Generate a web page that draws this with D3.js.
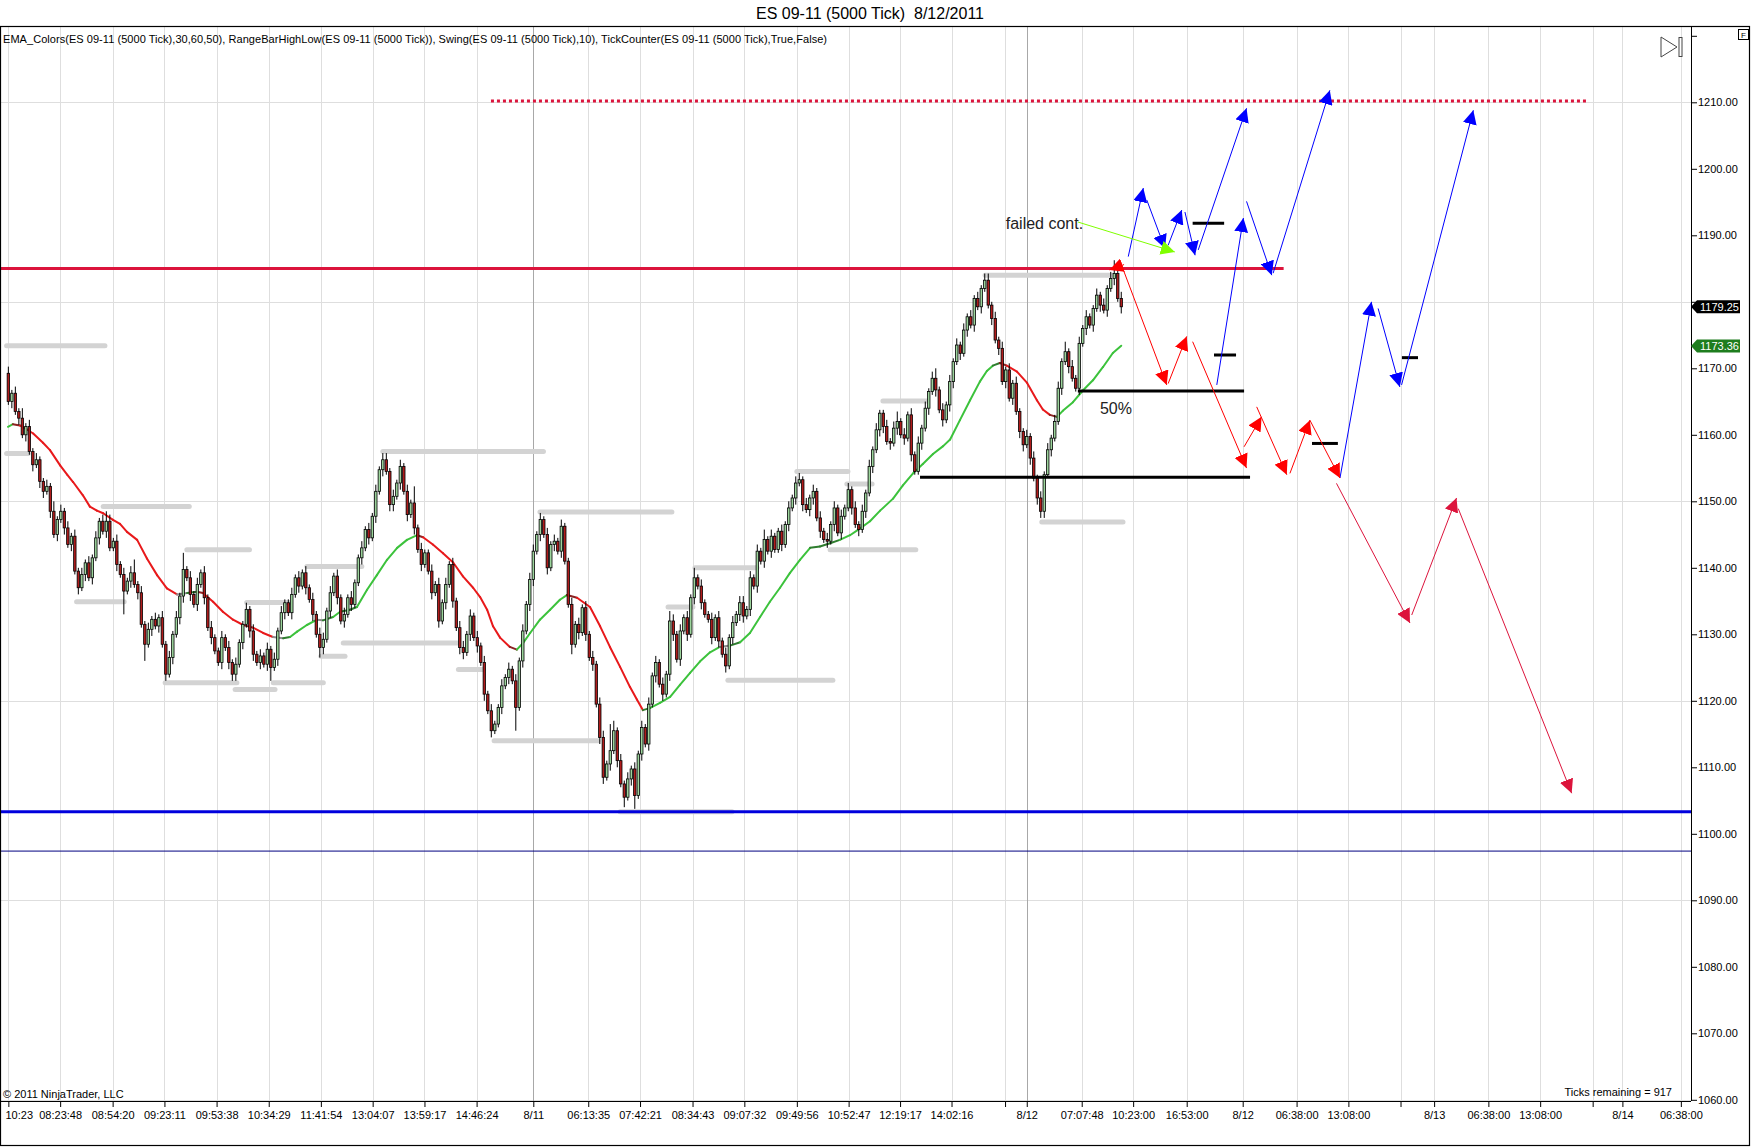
<!DOCTYPE html>
<html>
<head>
<meta charset="utf-8">
<script src="https://cdn.jsdelivr.net/npm/d3@7"></script>
<style>
  body { margin: 0; background: #fff; }
  svg { display: block; font-family: "Liberation Sans", Arial, sans-serif; }
</style>
</head>
<body>
<div id="chart"></div>
<script>
// ---- price bars (5000 tick), open of each bar = previous close ----
var firstOpen = 1169.25;
var closes = [
  1165, 1166.25, 1163.5, 1162.5, 1160, 1161.25, 1157.5, 1155.5, 1156.25, 1153,
  1151.5, 1152.25, 1148.5, 1145, 1147.25, 1148.5, 1146, 1143.5, 1144.75, 1139.5,
  1137, 1139, 1140.75, 1138.5, 1141.5, 1144.5, 1147, 1145.5, 1147, 1143,
  1144, 1140.5, 1139, 1136.5, 1138, 1139.25, 1137.5, 1136.25, 1131.5, 1128.5,
  1130.75, 1132.25, 1131.25, 1132.5, 1128.5, 1124, 1126.5, 1130, 1132.5, 1135.75,
  1139.75, 1138.5, 1136, 1134.5, 1137.5, 1139.25, 1135.5, 1131, 1129.5, 1127.5,
  1125.75, 1129.5, 1128, 1125.75, 1124, 1125.5, 1128.75, 1131.5, 1133.75, 1130.5,
  1127, 1125.75, 1126.75, 1125.5, 1127.75, 1125, 1126.25, 1130.5, 1133.25, 1134.75,
  1133.25, 1136, 1138.5, 1137.25, 1139.25, 1137, 1135.25, 1133, 1130, 1128,
  1129.25, 1133.5, 1136.25, 1138.75, 1135.5, 1132, 1133, 1135.5, 1134.5, 1137.75,
  1141.5, 1143, 1145.75, 1144.5, 1147.75, 1151.5, 1154.75, 1156.25, 1154.5, 1149.5,
  1150.75, 1152.75, 1155.25, 1151.5, 1148, 1149.75, 1146, 1142.75, 1140.5, 1142.25,
  1139.5, 1136.25, 1137.5, 1132, 1134.75, 1137.5, 1140.5, 1135, 1131, 1128,
  1127.25, 1130, 1132.75, 1129.5, 1128.25, 1125.75, 1121, 1118.5, 1115.5, 1116.5,
  1119, 1122.25, 1123.5, 1124.75, 1123, 1119, 1126, 1130.5, 1134.5, 1138.25,
  1142.5, 1145, 1147.25, 1145, 1140, 1143.5, 1144, 1142.5, 1146.25, 1141,
  1134.5, 1128.5, 1131.5, 1130.25, 1134, 1130, 1126.5, 1125.5, 1119.5, 1114.5,
  1108.5, 1110.5, 1112.5, 1115.5, 1111, 1107.5, 1105.5, 1108.25, 1109.75, 1105.75,
  1112, 1116, 1113.5, 1119.5, 1123.75, 1125.75, 1122.5, 1121, 1124, 1132,
  1130, 1126.25, 1130.5, 1132.5, 1130, 1135.5, 1138.5, 1137.25, 1134.75, 1133,
  1132.25, 1129.5, 1132.5, 1129, 1127, 1125.25, 1129.5, 1131.75, 1133, 1134.75,
  1132.75, 1133.75, 1138.5, 1137.25, 1142.5, 1141, 1144.25, 1142.5, 1144.75, 1142.75,
  1145.5, 1143.5, 1146.5, 1149, 1150.5, 1152.75, 1153.25, 1149.5, 1148.75, 1150.5,
  1151.5, 1147.5, 1145.5, 1144.25, 1144, 1146.5, 1149, 1145.25, 1147.75, 1149,
  1151.75, 1149, 1146.5, 1145.75, 1148.5, 1151.25, 1155.25, 1157.75, 1160.75, 1163.25,
  1161.25, 1159, 1158.75, 1161, 1162, 1160, 1159.5, 1163, 1157, 1154.5,
  1158.75, 1161, 1164, 1166.5, 1168.5, 1166.75, 1163.75, 1162.25, 1164.5, 1168,
  1171, 1173.5, 1172.25, 1175.75, 1177.75, 1176.5, 1180.5, 1179.25, 1182, 1183.25,
  1179.5, 1177.5, 1174.25, 1173, 1168, 1169.75, 1165.5, 1167.75, 1163.5, 1160.5,
  1158.5, 1159.75, 1156.5, 1153.5, 1150.5, 1148.5, 1154, 1157.75, 1159.5, 1162,
  1167, 1171, 1172.5, 1170.25, 1168.5, 1167, 1173.75, 1176, 1177.75, 1176.5,
  1179, 1181, 1179.5, 1178.75, 1182, 1183.5, 1184.25, 1180.5, 1179.25
];
// wick beyond the body, one digit per bar, in half points
var hiExt = "2121312121" + "1213121212" + "1212121232" + "1212124121" + "2121212121" +
            "5121212121" + "1212121121" + "2121212121" + "1212121212" + "2121212121" +
            "1212121221" + "2121215121" + "1212121212" + "2121212121" + "1212121212" +
            "2121212121" + "1212121212" + "2183121212" + "1212121213" + "2121213121" +
            "1212121212" + "2121213121" + "1212122121" + "2121212121" + "2121212121" +
            "1212312121" + "2121231212" + "1212121212" + "2121212121" + "1212121212" +
            "2131212121" + "121212412";
var loExt = "1212121212" + "2121212121" + "2121212121" + "1217121215" + "1212121212" +
            "2121212121" + "1212221212" + "2121241212" + "1212121213" + "2121212121" +
            "1212121212" + "2121212121" + "1212121212" + "2121212121" + "1212171212" +
            "2121212121" + "1312121212" + "2121213124" + "1212121212" + "2121212121" +
            "1212121212" + "2121212121" + "1212121212" + "2121212121" + "1212121212" +
            "2121212121" + "1212121212" + "2121212121" + "1212121212" + "2121222121" +
            "1212112121" + "212121212";

// ---- EMA line (bar slot, value) ----
var emaSlot = [-0.1, 1.3, 3.3, 5.3, 7.1, 9.9, 11.9, 14.8, 16.8, 18.5, 21.3, 23.3, 25.3, 27.1, 29.9, 31.9,
  33.9, 36.8, 39.6, 42.5, 45.3, 48.2, 51.1, 53.9, 55.6, 58.5, 61.3, 64.2, 67.1, 69.9, 72.8, 75.6, 78.5,
  80.5, 82.5, 85.3, 88.2, 89.9, 92.8, 94.8, 97.6, 99.6, 102.5, 105.3, 108.2, 111.1, 113.9, 116.8, 118.5,
  121.3, 124.2, 127.1, 129.9, 132.8, 134.8, 136.8, 138.5, 140.5, 143.3, 145.3, 147.1, 149.1, 151.9,
  154.8, 157.6, 159.6, 162.5, 166.2, 169.1, 171.9, 174.8, 177.6, 179.6, 181.3, 183.3, 186.2, 189.1,
  191.9, 194.8, 197.6, 200.5, 203.3, 206.2, 209.1, 211.9, 214.8, 217.6, 220.5, 223.3, 226.2, 229.1,
  231.9, 234.8, 237.6, 240.5, 243.3, 246.2, 249.1, 252.8, 255.6, 258.5, 261.3, 264.2, 267.1, 269.1,
  271.9, 274.8, 277.6, 279.6, 281.3, 283.3, 285.3, 288.2, 291.1, 293.9, 295.6, 297.6, 299.6, 301.3,
  304.2, 307.1, 309.9, 312.8, 315.6, 318];
var emaVal = [1161.2, 1161.6, 1161.4, 1160.8, 1160.2, 1158.8, 1157.7, 1155.4, 1154.0, 1152.9, 1150.9, 1149.2,
  1148.6, 1148.2, 1147.2, 1146.6, 1145.4, 1144.2, 1141.4, 1138.9, 1136.9, 1136.0, 1136.2, 1136.4, 1136.2,
  1134.9, 1133.4, 1132.2, 1131.4, 1131.0, 1130.2, 1129.6, 1129.4, 1129.6, 1130.4, 1131.4, 1132.2, 1132.1,
  1132.6, 1133.4, 1133.7, 1134.1, 1136.7, 1138.9, 1141.2, 1143.0, 1144.2, 1144.9, 1144.6, 1143.5, 1142.2,
  1140.8, 1138.7, 1137.0, 1135.6, 1133.7, 1131.2, 1129.5, 1128.1, 1127.7, 1128.7, 1130.2, 1132.2, 1133.7,
  1135.2, 1135.9, 1135.5, 1134.1, 1131.2, 1128.1, 1125.1, 1122.1, 1120.2, 1118.6, 1118.9, 1119.7, 1120.6,
  1122.4, 1124.2, 1125.9, 1127.3, 1128.1, 1128.3, 1128.8, 1130.2, 1132.6, 1134.9, 1137.0, 1139.2, 1141.2,
  1143.0, 1143.2, 1143.7, 1144.2, 1144.9, 1145.9, 1147.0, 1148.6, 1150.4, 1152.4, 1154.2, 1155.6, 1157.1,
  1158.3, 1159.3, 1162.2, 1165.2, 1168.0, 1169.6, 1170.4, 1170.8, 1170.4, 1169.5, 1167.8, 1165.2, 1163.8,
  1163.0, 1162.7, 1163.6, 1164.9, 1166.7, 1168.2, 1170.2, 1172.3, 1173.4];

// ---- swing high / low lines: [from slot, to slot, price] ----
var swingLines = [
  [-0.5, 27.6, 1173.4], [-0.5, 5.7, 1157.2], [19.5, 33.1, 1134.9], [27.1, 51.7, 1149.2],
  [44.8, 65.3, 1122.7], [51.0, 68.9, 1142.7], [64.8, 76.2, 1121.7], [68.1, 80.3, 1134.8],
  [75.7, 90.0, 1122.7], [85.3, 101.0, 1140.2], [89.3, 96.2, 1126.7], [95.7, 128.6, 1128.7],
  [107.0, 152.9, 1157.5], [128.6, 135.7, 1124.7], [138.8, 168.5, 1114.0], [151.9, 189.6, 1148.4],
  [174.8, 206.8, 1103.3], [188.5, 195.6, 1134.1], [196.2, 213.9, 1140.0], [205.6, 235.6, 1123.1],
  [225.3, 239.9, 1154.5], [234.8, 259.3, 1142.7], [239.6, 246.8, 1152.6], [249.9, 262.5, 1165.1],
  [279.1, 315.6, 1184.0], [295.3, 318.5, 1146.9]
];

// ---- drawn levels ----
var resistLevel = [-2.1, 364.4, 1185.0];
var supportLevel = 1103.3;
var lowLevel = 1097.4;
var targetLevel = [137.9, 450.8, 1210.2];
var blackLevels = [
  [260.5, 354.8, 1153.6], [305.6, 353.1, 1166.6], [338.4, 347.4, 1191.8],
  [344.5, 350.8, 1172.0], [372.5, 379.9, 1158.7], [398.2, 402.8, 1171.6]
];

// ---- arrows: [slot1, price1, slot2, price2] ----
var blueArrows = [
  [320.0, 1186.8, 324.3, 1197.1], [325.3, 1195.3, 330.5, 1188.0], [331.4, 1188.5, 335.3, 1193.8],
  [336.2, 1193.5, 339.1, 1187.0], [340.0, 1187.8, 353.8, 1209.1], [345.3, 1167.5, 352.9, 1192.6],
  [353.8, 1195.1, 361.0, 1184.0], [361.4, 1184.3, 377.6, 1211.8], [380.5, 1153.5, 389.5, 1180.0],
  [391.4, 1179.0, 397.6, 1167.2], [398.1, 1167.5, 418.6, 1208.8]
];
var redArrows = [
  [318.8, 1185.6, 314.6, 1184.8], [318.6, 1184.8, 331.0, 1167.5], [331.4, 1167.7, 336.7, 1174.8],
  [338.4, 1174.0, 353.8, 1155.0], [353.1, 1158.2, 358.1, 1162.7], [356.7, 1164.2, 365.3, 1154.0],
  [366.2, 1154.2, 371.9, 1162.2], [371.9, 1162.2, 380.5, 1153.5]
];
var crimsonArrows = [
  [379.5, 1152.7, 400.5, 1131.7], [401.0, 1132.9, 413.8, 1150.5], [414.3, 1148.9, 446.7, 1106.1]
];
var noteArrows = [[305.6, 1192.0, 333.3, 1187.5]];
var notes = [["failed cont.", 285.0, 1190.9], ["50%", 311.9, 1163.1]];

// ---- axes ----
var priceTicks = [1060, 1070, 1080, 1090, 1100, 1110, 1120, 1130, 1140, 1150, 1160, 1170, 1180, 1190, 1200, 1210, 1220];
var gridPrices = [1060, 1090, 1120, 1150, 1180, 1210];
var tickSlots = [0, 14.8, 29.8, 44.6, 59.5, 74.4, 89.3, 104.1, 118.9, 133.8, 150.0, 165.7, 180.5, 195.5,
  210.3, 225.3, 240.1, 254.8, 269.5, 284.8, 291.0, 306.7, 321.4, 336.7, 352.7, 368.1, 382.9, 397.8,
  407.4, 422.9, 437.7, 452.7, 461.2, 477.9];
var tickLabels = ["10:23", "08:23:48", "08:54:20", "09:23:11", "09:53:38", "10:34:29", "11:41:54",
  "13:04:07", "13:59:17", "14:46:24", "8/11", "06:13:35", "07:42:21", "08:34:43", "09:07:32",
  "09:49:56", "10:52:47", "12:19:17", "14:02:16", "", "8/12", "07:07:48", "10:23:00", "16:53:00",
  "8/12", "06:38:00", "13:08:00", "", "8/13", "06:38:00", "13:08:00", "", "8/14", "06:38:00"];
var sessionSlots = [150.0, 291.0];
var lastPrice = 1179.25, lastEma = 1173.36;

// ---- layout ----
var W = 1752, H = 1147;
var plot = {left: 1, right: 1691, top: 27, bottom: 1101};

var svg = d3.select("#chart").append("svg")
    .attr("width", W)
    .attr("height", H);

var x = d3.scaleLinear().domain([-2.1, 480.8]).range([plot.left, plot.right]);
var y = d3.scaleLinear().domain([1060, 1210]).range([1099.8, 102.3]);

var defs = svg.append("defs");
defs.append("clipPath").attr("id", "plotclip")
  .append("rect")
    .attr("x", plot.left).attr("y", plot.top)
    .attr("width", plot.right - plot.left).attr("height", plot.bottom - plot.top);

[["blue", "#0000ff"], ["red", "#ff0000"], ["crimson", "#dc143c"], ["lime", "#7fff00"]].forEach(function(m) {
  defs.append("marker")
      .attr("id", "head-" + m[0])
      .attr("viewBox", "0 0 14 14")
      .attr("refX", 14).attr("refY", 7)
      .attr("markerWidth", 14).attr("markerHeight", 14)
      .attr("markerUnits", "userSpaceOnUse")
      .attr("orient", "auto")
    .append("path")
      .attr("d", "M0,0L14,7L0,14Z")
      .attr("fill", m[1]);
});

// title + indicator legend
svg.append("text")
    .attr("x", 870).attr("y", 19)
    .attr("text-anchor", "middle")
    .attr("font-size", 16)
    .style("white-space", "pre")
    .text("ES 09-11 (5000 Tick)  8/12/2011");

var g = svg.append("g").attr("clip-path", "url(#plotclip)");

// grid
g.selectAll(".hgrid").data(gridPrices).enter().append("line")
    .attr("x1", plot.left).attr("x2", plot.right)
    .attr("y1", function(d) { return Math.round(y(d)) + 0.5; })
    .attr("y2", function(d) { return Math.round(y(d)) + 0.5; })
    .attr("stroke", "#dedede");
g.selectAll(".vgrid").data(tickSlots).enter().append("line")
    .attr("x1", function(d) { return Math.round(x(d)) + 0.5; })
    .attr("x2", function(d) { return Math.round(x(d)) + 0.5; })
    .attr("y1", plot.top).attr("y2", plot.bottom)
    .attr("stroke", function(d) { return sessionSlots.indexOf(d) >= 0 ? "#a8a8a8" : "#dedede"; });

svg.append("text")
    .attr("x", 3).attr("y", 43)
    .attr("font-size", 11)
    .attr("textLength", 824).attr("lengthAdjust", "spacing")
    .text("EMA_Colors(ES 09-11 (5000 Tick),30,60,50), RangeBarHighLow(ES 09-11 (5000 Tick)), Swing(ES 09-11 (5000 Tick),10), TickCounter(ES 09-11 (5000 Tick),True,False)");

// swing lines
g.selectAll(".swing").data(swingLines).enter().append("line")
    .attr("x1", function(d) { return x(d[0]); })
    .attr("x2", function(d) { return x(d[1]); })
    .attr("y1", function(d) { return y(d[2]); })
    .attr("y2", function(d) { return y(d[2]); })
    .attr("stroke", "#d3d3d3")
    .attr("stroke-width", 5)
    .attr("stroke-linecap", "round");

// EMA, coloured by slope
var emaPts = emaSlot.map(function(s, i) { return [s, emaVal[i]]; });
function emaColor(a, b) {
  var k = (b[1] - a[1]) / (b[0] - a[0]);
  if (k < -0.2) return "#e8191b";
  if (k < -0.07) return "#8b2323";
  if (k <= 0.07) return "#8c8c8c";
  if (k <= 0.2) return "#2f7d2f";
  return "#3cc23c";
}
g.selectAll(".ema").data(d3.pairs(emaPts)).enter().append("line")
    .attr("x1", function(d) { return x(d[0][0]); })
    .attr("y1", function(d) { return y(d[0][1]); })
    .attr("x2", function(d) { return x(d[1][0]); })
    .attr("y2", function(d) { return y(d[1][1]); })
    .attr("stroke", function(d) { return emaColor(d[0], d[1]); })
    .attr("stroke-width", 2)
    .attr("stroke-linecap", "round");

// candles
var bars = closes.map(function(c, i) {
  var o = i === 0 ? firstOpen : closes[i - 1];
  return {i: i, o: o, c: c,
          h: Math.max(o, c) + (+hiExt[i]) * 0.5,
          l: Math.min(o, c) - (+loExt[i]) * 0.5};
});
var candle = g.selectAll(".bar").data(bars).enter().append("g");
candle.append("line")
    .attr("x1", function(d) { return x(d.i); })
    .attr("x2", function(d) { return x(d.i); })
    .attr("y1", function(d) { return y(d.h); })
    .attr("y2", function(d) { return y(d.l); })
    .attr("stroke", "#000")
    .attr("stroke-width", 1);
candle.append("rect")
    .attr("x", function(d) { return x(d.i) - 1.2; })
    .attr("width", 2.4)
    .attr("y", function(d) { return y(Math.max(d.o, d.c)); })
    .attr("height", function(d) { return Math.max(0.8, y(Math.min(d.o, d.c)) - y(Math.max(d.o, d.c))); })
    .attr("fill", function(d) { return d.c >= d.o ? "#9cd49c" : "#b01c1c"; })
    .attr("stroke", "#000")
    .attr("stroke-width", 0.8);

// drawn levels
function hline(sel, s1, s2, p) {
  return sel.append("line").attr("x1", x(s1)).attr("x2", x(s2)).attr("y1", y(p)).attr("y2", y(p));
}
hline(g, -2.1, 480.8, lowLevel).attr("stroke", "#000080").attr("stroke-width", 1);
hline(g, -2.1, 480.8, supportLevel).attr("stroke", "#0000dd").attr("stroke-width", 3);
hline(g, resistLevel[0], resistLevel[1], resistLevel[2]).attr("stroke", "#dc143c").attr("stroke-width", 3);
hline(g, targetLevel[0], targetLevel[1], targetLevel[2])
    .attr("stroke", "#dc143c").attr("stroke-width", 3).attr("stroke-dasharray", "3,3");
blackLevels.forEach(function(d) {
  hline(g, d[0], d[1], d[2]).attr("stroke", "#000").attr("stroke-width", 3);
});

// arrows
function drawArrows(list, color, name) {
  g.selectAll(".arrow-" + name).data(list).enter().append("line")
      .attr("x1", function(d) { return x(d[0]); })
      .attr("y1", function(d) { return y(d[1]); })
      .attr("x2", function(d) { return x(d[2]); })
      .attr("y2", function(d) { return y(d[3]); })
      .attr("stroke", color)
      .attr("stroke-width", 1)
      .attr("marker-end", "url(#head-" + name + ")");
}
drawArrows(blueArrows, "#0000ff", "blue");
drawArrows(redArrows, "#ff0000", "red");
drawArrows(crimsonArrows, "#dc143c", "crimson");
drawArrows(noteArrows, "#7fff00", "lime");

g.selectAll(".note").data(notes).enter().append("text")
    .attr("x", function(d) { return x(d[1]); })
    .attr("y", function(d) { return y(d[2]); })
    .attr("font-size", 16)
    .attr("fill", "#222")
    .text(function(d) { return d[0]; });

// price axis (labels under the price tags are covered, as in NinjaTrader)
var yAxis = d3.axisRight(y)
    .tickValues(priceTicks)
    .tickFormat(function(d) {
      if (d > 1210 || Math.abs(y(d) - y(lastPrice)) < 10) return "";
      return d.toFixed(2);
    })
    .tickSize(6)
    .tickPadding(1);
var gy = svg.append("g")
    .attr("transform", "translate(" + plot.right + ",0)")
    .call(yAxis);
gy.select(".domain").remove();
gy.attr("font-family", null).attr("font-size", 11);
gy.selectAll("text").attr("fill", "#000");
svg.append("line")
    .attr("x1", plot.right + 0.5).attr("x2", plot.right + 0.5)
    .attr("y1", plot.top).attr("y2", plot.bottom)
    .attr("stroke", "#000");

// time axis
var xAxis = d3.axisBottom(x)
    .tickValues(tickSlots)
    .tickFormat(function(d, i) { return tickLabels[i]; })
    .tickSize(6)
    .tickPadding(4);
var gx = svg.append("g")
    .attr("transform", "translate(0," + plot.bottom + ")")
    .call(xAxis);
gx.select(".domain").remove();
gx.attr("font-family", null).attr("font-size", 11);
gx.selectAll("text").attr("fill", "#000");
gx.selectAll(".tick").filter(function(d, i) { return i === 0; }).select("text")
    .attr("text-anchor", "start")
    .attr("x", 5 - x(tickSlots[0]));
svg.append("line")
    .attr("x1", plot.left).attr("x2", plot.right)
    .attr("y1", plot.bottom + 0.5).attr("y2", plot.bottom + 0.5)
    .attr("stroke", "#000");

// last price / EMA tags
function tag(value, fill) {
  var ty = y(value);
  svg.append("polygon")
      .attr("points", [[plot.right, ty], [plot.right + 6, ty - 6.5], [1740, ty - 6.5], [1740, ty + 6.5], [plot.right + 6, ty + 6.5]].join(" "))
      .attr("fill", fill);
  svg.append("text")
      .attr("x", 1700).attr("y", ty + 4)
      .attr("font-size", 11)
      .attr("fill", "#fff")
      .text(value.toFixed(2));
}
tag(lastPrice, "#000");
tag(lastEma, "#1e7d1e");

// footer texts
svg.append("text")
    .attr("x", 3).attr("y", 1098)
    .attr("font-size", 11)
    .text("\u00a9 2011 NinjaTrader, LLC");
svg.append("text")
    .attr("x", 1672).attr("y", 1096)
    .attr("text-anchor", "end")
    .attr("font-size", 11)
    .text("Ticks remaining = 917");

// frame, scroll icon and "F" box
svg.append("rect")
    .attr("x", 0.5).attr("y", 26.5)
    .attr("width", 1749).attr("height", 1119)
    .attr("fill", "none")
    .attr("stroke", "#000")
    .attr("stroke-width", 1.2);
svg.append("polygon")
    .attr("points", "1661,37 1677,47 1661,57")
    .attr("fill", "#fff").attr("stroke", "#444");
svg.append("rect")
    .attr("x", 1679).attr("y", 37.5).attr("width", 3).attr("height", 19)
    .attr("fill", "#fff").attr("stroke", "#444");
svg.append("rect")
    .attr("x", 1738.5).attr("y", 29.5).attr("width", 10).attr("height", 10)
    .attr("fill", "#fff").attr("stroke", "#000");
svg.append("text")
    .attr("x", 1743.5).attr("y", 37.5)
    .attr("text-anchor", "middle")
    .attr("font-size", 8)
    .text("F");
</script>
</body>
</html>
